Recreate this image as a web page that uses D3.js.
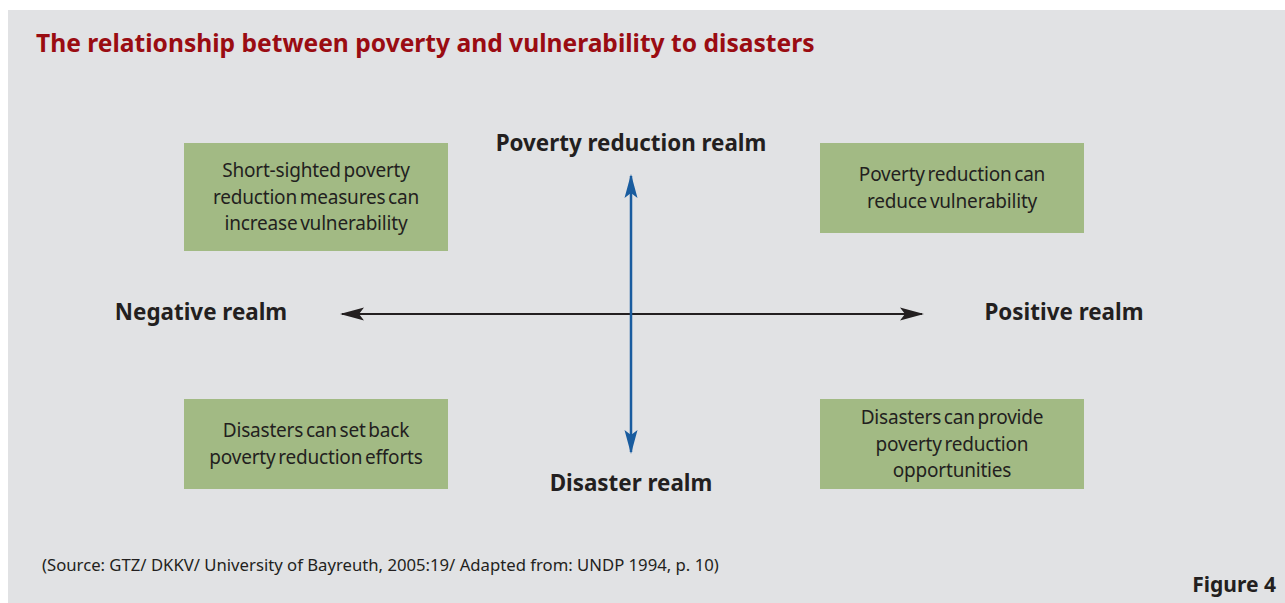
<!DOCTYPE html>
<html>
<head>
<meta charset="utf-8">
<script src="https://cdn.jsdelivr.net/npm/d3@7"></script>
<style>
  body { margin: 0; background: #fff; }
  svg text { font-family: "Noto Sans", "Open Sans", sans-serif; }
</style>
</head>
<body>
<div id="chart"></div>
<script>
// diagram content
var title = 'The relationship between poverty and vulnerability to disasters';
var quadrantKeys = ['topLeft', 'topRight', 'bottomLeft', 'bottomRight'];
var quadrantLines = [
	['Short-sighted poverty', 'reduction measures can', 'increase vulnerability'],
	['Poverty reduction can', 'reduce vulnerability'],
	['Disasters can set back', 'poverty reduction efforts'],
	['Disasters can provide', 'poverty reduction', 'opportunities']
];
var quadrantX = [-1, 1, -1, 1];
var quadrantY = [1, 1, -1, -1];
var axisLabels = ['Poverty reduction realm', 'Disaster realm', 'Negative realm', 'Positive realm'];
var sourceNote = '(Source: GTZ/ DKKV/ University of Bayreuth, 2005:19/ Adapted from: UNDP 1994, p. 10)';
var figureLabel = 'Figure 4';

var width = 1285, height = 603;

var svg = d3.select('#chart').append('svg')
	.attr('width', width)
	.attr('height', height);

svg.append('rect')
	.attr('x', 8).attr('y', 10)
	.attr('width', width - 8).attr('height', height - 10)
	.attr('fill', '#e1e2e4');

svg.append('text')
	.attr('x', 36).attr('y', 52)
	.attr('fill', '#9a0c12')
	.attr('font-size', 24.6)
	.attr('font-weight', 'bold')
	.text(title);

// conceptual axes: -1..1 both ways
var x = d3.scaleLinear().domain([-1, 1]).range([316, 952]);
var cx = 631, cy = 314;

var defs = svg.append('defs');
function arrowMarker(id, color) {
	defs.append('marker')
		.attr('id', id)
		.attr('viewBox', '0 -7 24 14')
		.attr('refX', 22).attr('refY', 0)
		.attr('markerWidth', 24).attr('markerHeight', 14)
		.attr('markerUnits', 'userSpaceOnUse')
		.attr('orient', 'auto-start-reverse')
		.append('path')
		.attr('d', 'M0,-6.5 L5,0 L0,6.5 L24,0 Z')
		.attr('fill', color);
}
arrowMarker('arrowBlack', '#231f20');
arrowMarker('arrowBlue', '#195c9f');

// quadrant boxes
var boxW = 264;
var lineH = 26.5;
var boxes = svg.selectAll('g.quad')
	.data(quadrantKeys)
	.enter().append('g')
	.attr('class', 'quad');

var boxTop = [143, 143, 399, 399];
var boxH = [108, 90, 90, 90];
boxes.append('rect')
	.attr('x', function(d, i) { return x(quadrantX[i]) - boxW / 2; })
	.attr('y', function(d, i) { return boxTop[i]; })
	.attr('width', boxW)
	.attr('height', function(d, i) { return boxH[i]; })
	.attr('fill', '#a2ba84');

boxes.each(function(d, i) {
	var lines = quadrantLines[i];
	var midY = boxTop[i] + boxH[i] / 2;
	var startY = midY - (lines.length - 1) * lineH / 2;
	d3.select(this).selectAll('text')
		.data(lines)
		.enter().append('text')
		.attr('x', x(quadrantX[i]))
		.attr('y', function(l, j) { return startY + j * lineH; })
		.attr('dy', '0.35em')
		.attr('text-anchor', 'middle')
		.attr('font-size', 19)
		.attr('letter-spacing', -0.2)
		.attr('word-spacing', -2)
		.attr('fill', '#231f20')
		.text(function(l) { return l; });
});

// horizontal arrow
svg.append('line')
	.attr('x1', 342).attr('y1', cy)
	.attr('x2', 922).attr('y2', cy)
	.attr('stroke', '#231f20')
	.attr('stroke-width', 2)
	.attr('marker-start', 'url(#arrowBlack)')
	.attr('marker-end', 'url(#arrowBlack)');

// vertical arrow
svg.append('line')
	.attr('x1', cx).attr('y1', 176)
	.attr('x2', cx).attr('y2', 452)
	.attr('stroke', '#195c9f')
	.attr('stroke-width', 2.5)
	.attr('marker-start', 'url(#arrowBlue)')
	.attr('marker-end', 'url(#arrowBlue)');

// realm labels
var labelPos = [[cx, 143], [cx, 483], [201, 312], [1064, 312]];
svg.selectAll('text.realm')
	.data(axisLabels)
	.enter().append('text')
	.attr('class', 'realm')
	.attr('x', function(d, i) { return labelPos[i][0]; })
	.attr('y', function(d, i) { return labelPos[i][1]; })
	.attr('dy', '0.35em')
	.attr('text-anchor', 'middle')
	.attr('font-size', 22.4)
	.attr('font-weight', 'bold')
	.attr('fill', '#231f20')
	.text(function(d) { return d; });

svg.append('text')
	.attr('x', 42).attr('y', 571)
	.attr('font-size', 16.7)
	.attr('fill', '#231f20')
	.text(sourceNote);

svg.append('text')
	.attr('x', 1276).attr('y', 592)
	.attr('text-anchor', 'end')
	.attr('font-size', 21)
	.attr('font-weight', 'bold')
	.attr('fill', '#231f20')
	.text(figureLabel);
</script>
</body>
</html>
